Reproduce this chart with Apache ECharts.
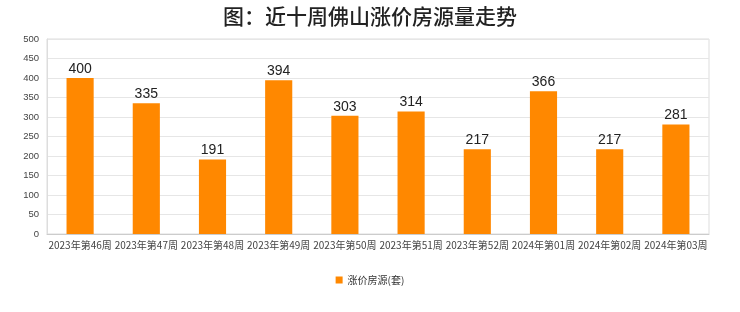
<!DOCTYPE html>
<html><head><meta charset="utf-8">
<script src="https://cdn.jsdelivr.net/npm/echarts@6/dist/echarts.min.js"></script>
<style>html,body{margin:0;padding:0;background:#fff}#c{width:740px;height:312px}</style>
</head><body><div id="c"></div>
<script>
const categories = ['2023年第46周','2023年第47周','2023年第48周','2023年第49周','2023年第50周','2023年第51周','2023年第52周','2024年第01周','2024年第02周','2024年第03周'];
const values = [400,335,191,394,303,314,217,366,217,281];
const seriesName = '涨价房源(套)';
const chart = echarts.init(document.getElementById('c'));
chart.setOption({
  animation:false,
  title:{text:'图：近十周佛山涨价房源量走势',left:'center',top:1,textStyle:{fontSize:21,fontWeight:500,color:'#222',fontFamily:'Noto Sans CJK SC'}},
  legend:{bottom:22,itemWidth:7,itemHeight:7,icon:'rect',textStyle:{fontSize:10,color:'#333',fontFamily:'Noto Sans CJK SC'},data:[seriesName]},
  grid:{left:47,right:31,top:39,bottom:78,show:true,borderColor:'#ddd',borderWidth:1},
  xAxis:{type:'category',data:categories,axisLine:{lineStyle:{color:'#ccc'}},axisTick:{show:false},
    axisLabel:{fontSize:10,color:'#444',margin:6,interval:0,fontFamily:'Noto Sans CJK SC'}},
  yAxis:{type:'value',min:0,max:500,interval:50,axisLine:{show:true,lineStyle:{color:'#ddd'}},
    axisLabel:{fontSize:9.5,color:'#444',margin:8},splitLine:{lineStyle:{color:'#e6e6e6'}}},
  series:[{name:seriesName,type:'bar',data:values,barWidth:'41%',itemStyle:{color:'#ff8800'},
    label:{show:true,position:'top',fontSize:14,color:'#222',distance:2}}]
});
</script></body></html>
